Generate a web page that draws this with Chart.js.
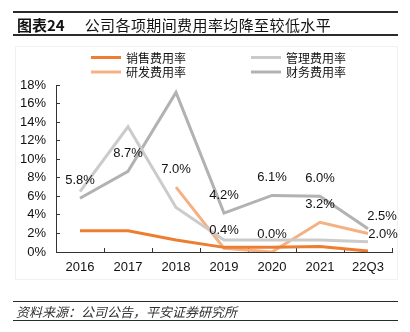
<!DOCTYPE html>
<html>
<head>
<meta charset="utf-8">
<script src="https://cdn.jsdelivr.net/npm/chart.js@4.4.1/dist/chart.umd.min.js"></script>
<style>
  body { margin: 0; background: #fff; }
  #wrap { position: relative; width: 410px; height: 332px; overflow: hidden; }
  #chart { position: absolute; left: 0; top: 0; }
  .rule { position: absolute; left: 13px; width: 385px; background: #2b2b2b; }
  #title {
    position: absolute; left: 17px; top: 15px; height: 20px; line-height: 20px;
    font-family: "Noto Sans CJK SC", sans-serif; font-size: 15px; color: #111;
    letter-spacing: 0.4px; white-space: nowrap;
  }
  #title b { font-weight: bold; margin-right: 20px; letter-spacing: 0; }
  #source {
    position: absolute; left: 16px; top: 304px; height: 16px; line-height: 16px;
    font-family: "Noto Sans CJK SC", sans-serif; font-size: 13px; font-style: italic;
    color: #333; white-space: nowrap;
  }
  #frame { position: absolute; left: 15px; top: 46px; width: 381px; height: 232px; border: 1px solid #f1f1f1; }
</style>
</head>
<body>
<div id="wrap">
  <div id="frame"></div>
  <canvas id="chart" width="410" height="332"></canvas>
  <div class="rule" style="top:11px;height:2px"></div>
  <div id="title"><b>图表24</b>公司各项期间费用率均降至较低水平</div>
  <div class="rule" style="top:34px;height:2px"></div>
  <div class="rule" style="top:301px;height:1px"></div>
  <div id="source">资料来源：公司公告，平安证券研究所</div>
  <div class="rule" style="top:320px;height:1px"></div>
</div>
<script>
// categories and expense ratios (%)
const categories = ['2016', '2017', '2018', '2019', '2020', '2021', '22Q3'];
const salesRate = [2.3, 2.3, 1.3, 0.5, 0.5, 0.6, 0.1];
const adminRate = [6.5, 13.5, 4.8, 1.3, 1.3, 1.3, 1.1];
const rdRate = [null, null, 7.0, 0.4, 0.0, 3.2, 2.0];
const financeRate = [5.8, 8.7, 17.2, 4.2, 6.1, 6.0, 2.5];
const financeShowLabel = [true, true, false, true, true, true, true];
const yTicks = [0, 2, 4, 6, 8, 10, 12, 14, 16, 18];

const seriesNames = ['销售费用率', '管理费用率', '研发费用率', '财务费用率'];
const seriesColors = ['#ED7D31', '#CBCBCB', '#F4B183', '#B2B2B2'];

Chart.defaults.font.family = '"Liberation Sans", Arial, sans-serif';
Chart.defaults.font.size = 13;
Chart.defaults.color = '#111';

function mkSet(i, data, extra) {
  return Object.assign({
    label: seriesNames[i],
    data: data,
    borderColor: seriesColors[i],
    backgroundColor: seriesColors[i],
    borderWidth: 3,
    pointRadius: 0,
    pointHoverRadius: 0,
    tension: 0,
    fill: false
  }, extra || {});
}

// legend in two columns, line sample + text
const legendPlugin = {
  id: 'twoColLegend',
  afterDraw(chart) {
    const ctx = chart.ctx;
    const cols = [91, 251], rows = [57.5, 72];
    ctx.save();
    ctx.font = '12px "Noto Sans CJK SC", sans-serif';
    ctx.textBaseline = 'middle';
    ctx.fillStyle = '#111';
    chart.data.datasets.forEach((ds, i) => {
      const x = cols[i % 2], y = rows[Math.floor(i / 2)];
      ctx.strokeStyle = ds.borderColor;
      ctx.lineWidth = 3;
      ctx.beginPath();
      ctx.moveTo(x, y);
      ctx.lineTo(x + 30, y);
      ctx.stroke();
      ctx.fillText(ds.label, x + 35, y + 0.5);
    });
    ctx.restore();
  }
};

// value labels on R&D and finance series
const valueLabels = {
  id: 'valueLabels',
  afterDatasetsDraw(chart) {
    const ctx = chart.ctx;
    ctx.save();
    ctx.font = '13px "Liberation Sans", Arial, sans-serif';
    ctx.fillStyle = '#111';
    ctx.textAlign = 'center';
    ctx.textBaseline = 'middle';
    chart.data.datasets.forEach((ds, di) => {
      if (!ds.showLabels) return;
      const meta = chart.getDatasetMeta(di);
      const last = ds.data.length - 1;
      ds.data.forEach((v, i) => {
        if (v === null || (ds.showLabels !== true && !ds.showLabels[i])) return;
        const pt = meta.data[i];
        let dx = 0, dy = -17.5;
        if (i === last) { dx = ds.lastOffset[0]; dy = ds.lastOffset[1]; }
        ctx.fillText(v.toFixed(1) + '%', pt.x + dx, pt.y + dy);
      });
    });
    ctx.restore();
  }
};

new Chart(document.getElementById('chart'), {
  type: 'line',
  data: {
    labels: categories,
    datasets: [
      mkSet(0, salesRate),
      mkSet(1, adminRate),
      mkSet(2, rdRate, { showLabels: true, lastOffset: [15, 0.5] }),
      mkSet(3, financeRate, { showLabels: financeShowLabel, lastOffset: [14, -12] })
    ]
  },
  options: {
    responsive: false,
    animation: false,
    events: [],
    layout: { padding: { left: 0, right: 18, top: 85, bottom: 50 } },
    plugins: { legend: { display: false }, tooltip: { enabled: false } },
    scales: {
      x: {
        offset: true,
        grid: { display: true, offset: true, drawOnChartArea: false, tickLength: -4, color: '#333', lineWidth: 1 },
        border: { display: true, color: '#333', width: 1 },
        ticks: { padding: 12, color: '#111', maxRotation: 0, autoSkip: false },
        afterFit(scale) { scale.height = 30; }
      },
      y: {
        min: 0,
        max: 18,
        afterBuildTicks(scale) { scale.ticks = yTicks.map(v => ({ value: v })); },
        grid: { display: true, drawOnChartArea: false, tickLength: -4, color: '#333', lineWidth: 1 },
        border: { display: true, color: '#333', width: 1 },
        ticks: { padding: 14, color: '#111', autoSkip: false, callback: v => v + '%' },
        afterFit(scale) { scale.width = 56; }
      }
    }
  },
  plugins: [legendPlugin, valueLabels]
});
</script>
</body>
</html>
